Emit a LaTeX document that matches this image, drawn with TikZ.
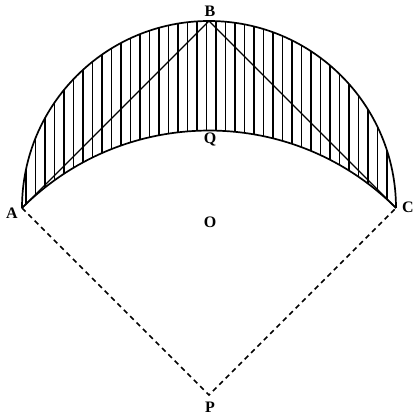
\documentclass[tikz,border=0pt]{standalone}
\usepackage{fontspec}
\setmainfont{Liberation Serif}
\begin{document}
\begin{tikzpicture}[x=1pt,y=1pt,
  lbl/.style={font=\bfseries\fontsize{16}{16}\selectfont, inner sep=0pt},
  arcline/.style={line width=1.7pt},
  hatch/.style={line width=1.3pt},
  chord/.style={line width=1.4pt},
  dashline/.style={line width=1.6pt, dash pattern=on 5pt off 4pt}]
\useasboundingbox (0,0) rectangle (415,415);
\coordinate (O) at (209,207);
\coordinate (A) at (22,207);
\coordinate (C) at (396,207);
\coordinate (B) at (209,394);
\coordinate (P) at (209,20);
\coordinate (Q) at (209,284.5);
% hatching
\begin{scope}
  \clip (A) arc[start angle=180,end angle=0,radius=187] arc[start angle=45,end angle=135,radius=264.46];
  \foreach \x in {26,35.5,...,396} \draw[hatch] (\x,190) -- (\x,400);
\end{scope}
% arcs
\draw[arcline] (A) arc[start angle=180,end angle=0,radius=187];
\draw[arcline] (C) arc[start angle=45,end angle=135,radius=264.46];
% chords
\draw[chord] (A) -- (B) -- (C);
% dashed radii
\draw[dashline] (A) -- (P) -- (C);
% labels
\node[lbl] (la) at (12,202) {A};
\node[lbl] (lc) at (408,208) {C};
\node[lbl] (lb) at (210,404) {B};
\node[lbl] (lq) at (210,275) {Q};
\node[lbl] (lo) at (210,193) {O};
\node[lbl] (lp) at (210,8) {P};
\end{tikzpicture}
\end{document}
